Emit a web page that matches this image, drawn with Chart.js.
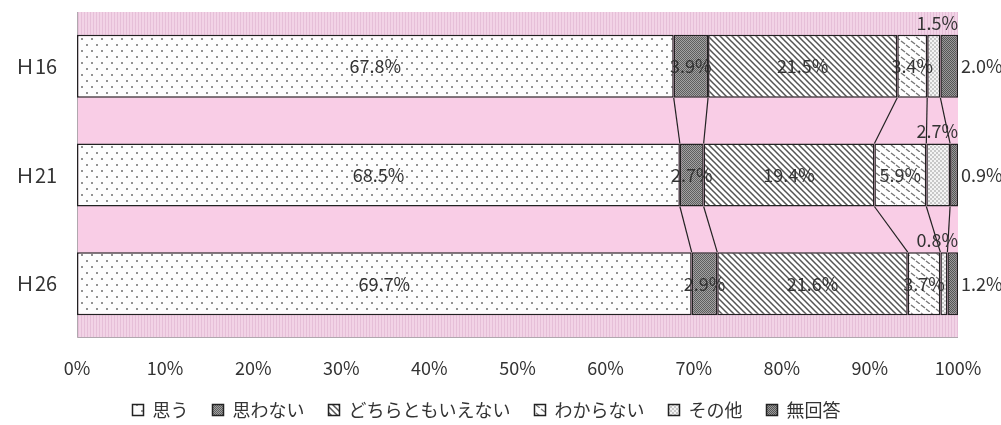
<!DOCTYPE html>
<html>
<head>
<meta charset="utf-8">
<script src="https://cdn.jsdelivr.net/npm/chart.js@4"></script>
<style>
  html, body { margin: 0; padding: 0; background: #fff; }
  #wrap { width: 1001px; height: 425px; }
</style>
</head>
<body>
<div id="wrap"><canvas id="chart" width="1001" height="425"></canvas></div>
<script>
// 年度
const categories = ['Ｈ16', 'Ｈ21', 'Ｈ26'];
// 回答区分
const seriesNames = ['思う', '思わない', 'どちらともいえない', 'わからない', 'その他', '無回答'];
// 各回答の割合（％）
const omou = [67.8, 68.5, 69.7];
const omowanai = [3.9, 2.7, 2.9];
const dochiramo = [21.5, 19.4, 21.6];
const wakaranai = [3.4, 5.9, 3.7];
const sonota = [1.5, 2.7, 0.8];
const mukaitou = [2.0, 0.9, 1.2];
const xTicks = [0, 10, 20, 30, 40, 50, 60, 70, 80, 90, 100];

const seriesValues = [omou, omowanai, dochiramo, wakaranai, sonota, mukaitou];
const FONT = '"Noto Sans CJK JP", "Noto Sans", sans-serif';

// 模様を作る
function makePattern(w, h, draw) {
  const c = document.createElement('canvas');
  c.width = w; c.height = h;
  const g = c.getContext('2d');
  draw(g, w, h);
  return g.createPattern(c, 'repeat');
}
function dot(g, x, y, r, col) {
  g.fillStyle = col;
  g.beginPath(); g.arc(x, y, r, 0, Math.PI * 2); g.fill();
}
const patDots = makePattern(10, 12, (g) => {
  g.fillStyle = '#fdfdfd'; g.fillRect(0, 0, 10, 12);
  dot(g, 2, 3, 1, '#6e6e6e'); dot(g, 7, 9, 1, '#6e6e6e');
});
const patChecker = (a, b) => makePattern(2, 2, (g) => {
  g.fillStyle = a; g.fillRect(0, 0, 2, 2);
  g.fillStyle = b; g.fillRect(0, 0, 1, 1); g.fillRect(1, 1, 1, 1);
});
const patDiag = makePattern(6, 6, (g) => {
  g.fillStyle = '#fff'; g.fillRect(0, 0, 6, 6);
  g.strokeStyle = '#555'; g.lineWidth = 1.5;
  g.beginPath();
  g.moveTo(-1, -1); g.lineTo(7, 7);
  g.moveTo(-4, 2); g.lineTo(4, 10);
  g.moveTo(2, -4); g.lineTo(10, 4);
  g.stroke();
});
const patDash = makePattern(10, 8, (g) => {
  g.fillStyle = '#fff'; g.fillRect(0, 0, 10, 8);
  g.strokeStyle = '#777'; g.lineWidth = 1.4;
  g.beginPath();
  g.moveTo(1, 1); g.lineTo(5, 4);
  g.moveTo(6, 5); g.lineTo(10, 8);
  g.stroke();
});
const patSmallDots = makePattern(4, 4, (g) => {
  g.fillStyle = '#f4f4f4'; g.fillRect(0, 0, 4, 4);
  dot(g, 1, 1, 0.75, '#888'); dot(g, 3, 3, 0.75, '#888');
});
const patBand = makePattern(3, 3, (g) => {
  g.fillStyle = '#f2d3e6'; g.fillRect(0, 0, 3, 3);
  g.fillStyle = '#e6bfd8'; g.fillRect(0, 0, 1, 3);
});
const fills = [patDots, patChecker('#a2a2a2', '#5e5e5e'), patDiag, patDash, patSmallDots, patChecker('#9a9a9a', '#555')];

const datasets = seriesNames.map((name, i) => ({
  label: name,
  data: seriesValues[i].map((v, k) => {
    const total = seriesValues.reduce((s, arr) => s + arr[k], 0);
    return v / total * 100;
  }),
  raw: seriesValues[i],
  backgroundColor: fills[i],
  borderColor: '#222',
  borderWidth: 1.5,
  borderSkipped: false,
  categoryPercentage: 0.58,
  barPercentage: 1
}));

// 背景
const bgPlugin = {
  id: 'bg',
  beforeDatasetsDraw(chart) {
    const { ctx, chartArea: a } = chart;
    ctx.save();
    ctx.fillStyle = '#f9cde6';
    ctx.fillRect(a.left, a.top, a.right - a.left, a.bottom - a.top);
    const meta = chart.getDatasetMeta(0);
    const first = meta.data[0], last = meta.data[meta.data.length - 1];
    ctx.fillStyle = patBand;
    ctx.fillRect(a.left, a.top, a.right - a.left, first.y - first.height / 2 - a.top);
    ctx.fillRect(a.left, last.y + last.height / 2, a.right - a.left, a.bottom - last.y - last.height / 2);
    ctx.strokeStyle = '#b0a8ae';
    ctx.lineWidth = 1;
    ctx.beginPath();
    ctx.moveTo(a.left + 0.5, a.top);
    ctx.lineTo(a.left + 0.5, a.bottom - 0.5);
    ctx.lineTo(a.right, a.bottom - 0.5);
    ctx.stroke();
    ctx.restore();
  }
};

// 区分線とラベル
const linePlugin = {
  id: 'lines',
  afterDatasetsDraw(chart) {
    const { ctx } = chart;
    const n = categories.length;
    ctx.save();
    ctx.strokeStyle = '#222';
    ctx.lineWidth = 1.2;
    for (let d = 0; d < seriesNames.length - 1; d++) {
      const meta = chart.getDatasetMeta(d);
      for (let k = 0; k < n - 1; k++) {
        const e1 = meta.data[k], e2 = meta.data[k + 1];
        ctx.beginPath();
        ctx.moveTo(e1.x, e1.y + e1.height / 2);
        ctx.lineTo(e2.x, e2.y - e2.height / 2);
        ctx.stroke();
      }
    }
    ctx.font = '18px ' + FONT;
    ctx.fillStyle = '#333';
    const xs = chart.scales.x;
    chart.data.datasets.forEach((ds, d) => {
      chart.getDatasetMeta(d).data.forEach((e, k) => {
        const txt = ds.raw[k].toFixed(1) + '%';
        ctx.textBaseline = 'middle';
        if (d === 4) {
          ctx.textAlign = 'right';
          ctx.fillText(txt, xs.getPixelForValue(100), e.y - e.height / 2 - 12);
        } else if (d === 5) {
          ctx.textAlign = 'left';
          ctx.fillText(txt, e.x + 3, e.y);
        } else {
          ctx.textAlign = 'center';
          ctx.fillText(txt, (e.x + e.base) / 2, e.y);
        }
      });
    });
    ctx.restore();
  }
};

new Chart(document.getElementById('chart'), {
  type: 'bar',
  data: { labels: categories, datasets },
  options: {
    indexAxis: 'y',
    responsive: false,
    animation: false,
    layout: { padding: { top: 12, right: 43, left: 15, bottom: 0 } },
    scales: {
      x: {
        stacked: true,
        min: 0,
        max: 100,
        grid: { display: false },
        border: { display: false },
        afterBuildTicks(scale) { scale.ticks = xTicks.map(v => ({ value: v })); },
        afterFit(scale) { scale.height = 39; },
        ticks: {
          color: '#333',
          font: { family: FONT, size: 18 },
          padding: 11,
          maxRotation: 0,
          callback: (v) => v + '%'
        }
      },
      y: {
        stacked: true,
        grid: { display: false },
        border: { display: false },
        afterFit(scale) { scale.width = 62; },
        ticks: {
          color: '#333',
          font: { family: FONT, size: 20 },
          padding: 0,
          crossAlign: 'far'
        }
      }
    },
    plugins: {
      legend: {
        position: 'bottom',
        maxHeight: 48,
        labels: {
          color: '#333',
          font: { family: FONT, size: 18 },
          boxWidth: 11,
          boxHeight: 11,
          padding: 24
        }
      },
      tooltip: { enabled: false }
    }
  },
  plugins: [bgPlugin, linePlugin]
});
</script>
</body>
</html>
